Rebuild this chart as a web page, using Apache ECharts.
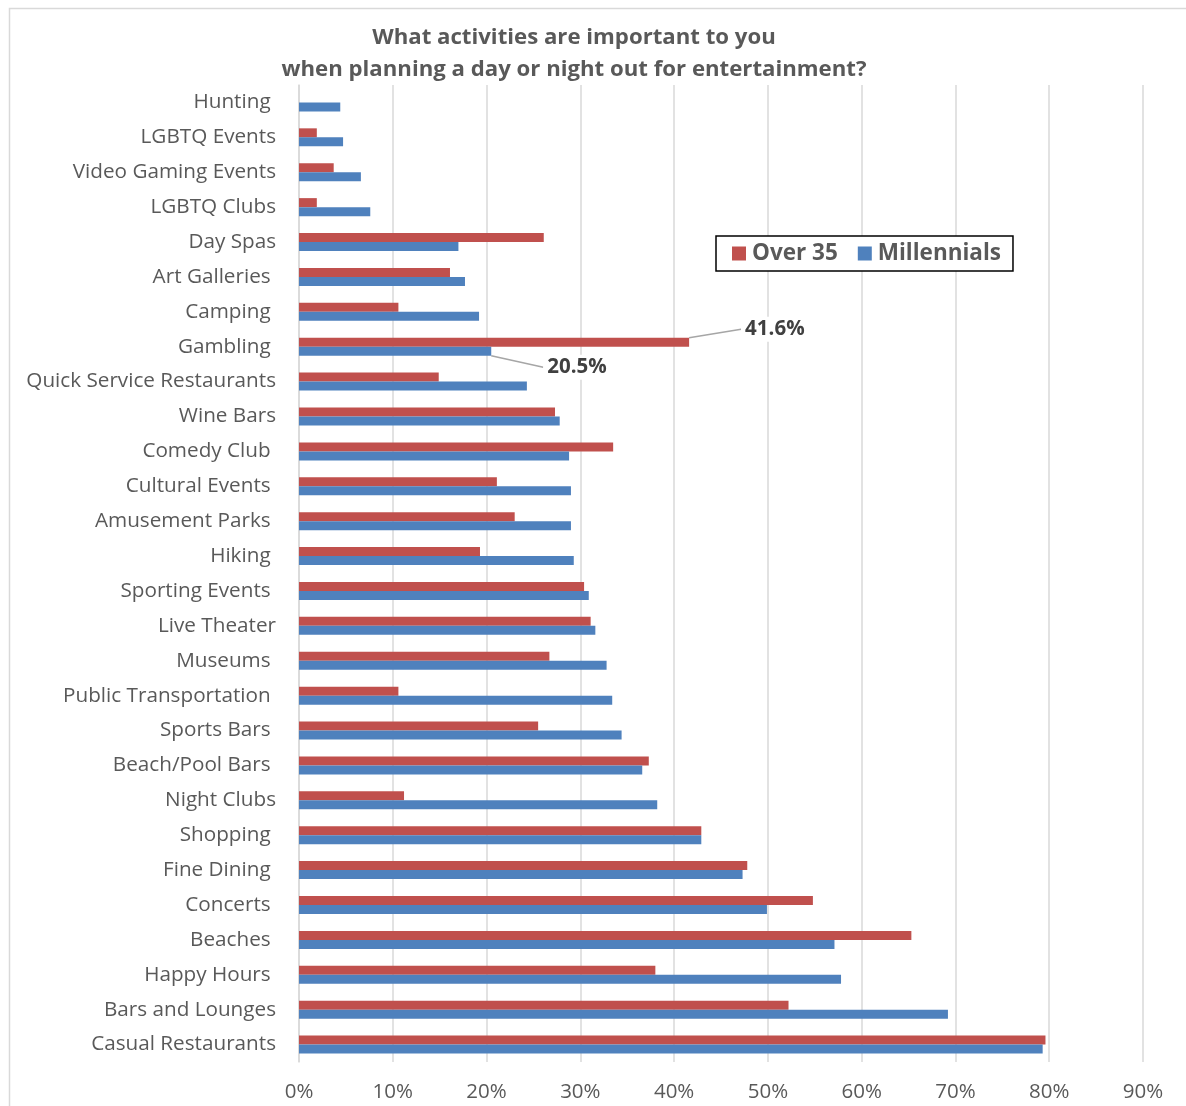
<!DOCTYPE html>
<html>
<head>
<meta charset="utf-8">
<style>
  html, body { margin: 0; padding: 0; background: #fff; }
  #chart { width: 1186px; height: 1106px; }
</style>
<script src="https://cdn.jsdelivr.net/npm/echarts@6/dist/echarts.min.js"></script>
</head>
<body>
<div id="chart"></div>
<script>
// Survey activities, top to bottom
const categories = [
  'Hunting ', 'LGBTQ Events', 'Video Gaming Events', 'LGBTQ Clubs', 'Day Spas',
  'Art Galleries ', 'Camping ', 'Gambling ', 'Quick Service Restaurants', 'Wine Bars',
  'Comedy Club ', 'Cultural Events ', 'Amusement Parks ', 'Hiking ', 'Sporting Events ',
  'Live Theater', 'Museums ', 'Public Transportation ', 'Sports Bars ', 'Beach/Pool Bars ',
  'Night Clubs', 'Shopping ', 'Fine Dining ', 'Concerts ', 'Beaches ',
  'Happy Hours ', 'Bars and Lounges', 'Casual Restaurants'
];

// Share of respondents (%) who rated each activity important
const over35 = [
  0, 1.9, 3.7, 1.9, 26.1,
  16.1, 10.6, 41.6, 14.9, 27.3,
  33.5, 21.1, 23.0, 19.3, 30.4,
  31.1, 26.7, 10.6, 25.5, 37.3,
  11.2, 42.9, 47.8, 54.8, 65.3,
  38.0, 52.2, 79.6
];
const millennials = [
  4.4, 4.7, 6.6, 7.6, 17.0,
  17.7, 19.2, 20.5, 24.3, 27.8,
  28.8, 29.0, 29.0, 29.3, 30.9,
  31.6, 32.8, 33.4, 34.4, 36.6,
  38.2, 42.9, 47.3, 49.9, 57.1,
  57.8, 69.2, 79.3
];

// Values called out with a leader line
const calloutCategory = 'Gambling ';

const xTicks = { min: 0, max: 90, step: 10 };

const FONT = '"Open Sans", "Noto Sans", sans-serif';
const TEXT_GREY = '#595959';
const GRID_GREY = '#D9D9D9';

function calloutData(values) {
  return values.map((v, i) => {
    if (categories[i] !== calloutCategory) return v;
    return {
      value: v,
      label: {
        show: true,
        position: 'right',
        distance: 0,
        formatter: (p) => p.value.toFixed(1) + '%',
        fontFamily: FONT,
        fontWeight: 'bold',
        fontSize: 20.5,
        color: '#404040',
        backgroundColor: '#fff',
        padding: [2, 4]
      },
      labelLine: { show: true, lineStyle: { color: '#A6A6A6', width: 1.5 } }
    };
  });
}

const chart = echarts.init(document.getElementById('chart'), null, { renderer: 'canvas' });

chart.setOption({
  animation: false,
  backgroundColor: '#fff',
  textStyle: { fontFamily: FONT },
  title: {
    text: 'What activities are important to you\nwhen planning a day or night out for entertainment?',
    left: 569,
    top: 17,
    textAlign: 'center',
    textStyle: {
      fontFamily: FONT,
      fontWeight: 'bold',
      fontSize: 22.2,
      lineHeight: 32,
      color: TEXT_GREY
    }
  },
  graphic: [{
    type: 'rect',
    left: 7,
    top: 6,
    shape: { width: 1200, height: 1120 },
    style: { fill: 'none', stroke: GRID_GREY, lineWidth: 1.5 },
    z: -1
  }],
  legend: {
    left: 716,
    top: 236,
    data: ['Over 35', 'Millennials'],
    itemWidth: 14,
    itemHeight: 14,
    itemGap: 20,
    padding: [6, 12, 6, 16],
    borderColor: '#000',
    borderWidth: 1.5,
    backgroundColor: '#fff',
    icon: 'rect',
    textStyle: { fontFamily: FONT, fontWeight: 'bold', fontSize: 22.5, color: TEXT_GREY, padding: [0, 0, 0, 1] }
  },
  grid: { left: 299, right: 43, top: 85, bottom: 44, containLabel: false },
  xAxis: {
    type: 'value',
    min: xTicks.min,
    max: xTicks.max,
    interval: xTicks.step,
    axisLine: { show: false },
    axisTick: { show: false },
    splitLine: { show: true, lineStyle: { color: GRID_GREY, width: 1.5 } },
    axisLabel: {
      formatter: '{value}%',
      fontFamily: FONT,
      fontSize: 20.5,
      color: TEXT_GREY,
      margin: 20
    }
  },
  yAxis: {
    type: 'category',
    inverse: true,
    data: categories,
    axisLine: { show: true, lineStyle: { color: GRID_GREY, width: 1.5 } },
    axisTick: { show: false },
    axisLabel: {
      fontFamily: FONT,
      fontSize: 20.7,
      color: TEXT_GREY,
      margin: 23
    }
  },
  series: [
    {
      name: 'Over 35',
      type: 'bar',
      data: calloutData(over35),
      barWidth: 9,
      barGap: '0%',
      itemStyle: { color: '#C0504D' },
      labelLayout: () => ({ dx: 52, dy: -13 })
    },
    {
      name: 'Millennials',
      type: 'bar',
      data: calloutData(millennials),
      barWidth: 9,
      barGap: '0%',
      itemStyle: { color: '#4F81BD' },
      labelLayout: () => ({ dx: 52, dy: 16 })
    }
  ]
});
</script>
</body>
</html>
